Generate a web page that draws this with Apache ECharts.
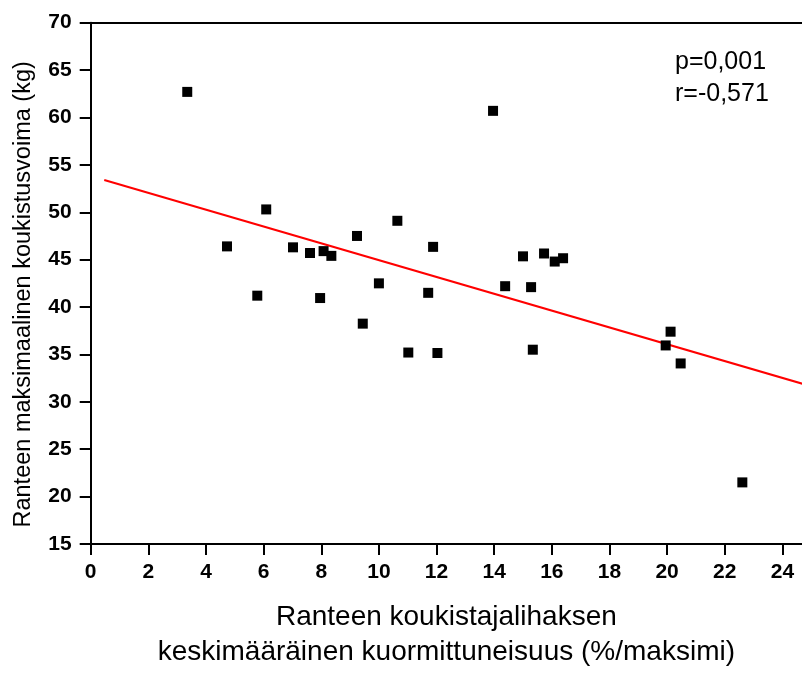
<!DOCTYPE html>
<html>
<head>
<meta charset="utf-8">
<script src="https://cdn.jsdelivr.net/npm/echarts@6/dist/echarts.min.js"></script>
<style>
  html, body { margin: 0; padding: 0; background: #fff; }
  #chart { width: 802px; height: 675px; }
</style>
</head>
<body>
<div id="chart"></div>
<script>
// mittaustulokset: kuormittuneisuus (%/maksimi) ja koukistusvoima (kg)
var loadPct = [3.35, 4.73, 5.78, 6.09, 7.02, 7.61, 7.96, 8.08, 8.35, 9.24,
               9.44, 10.0, 10.64, 11.02, 11.71, 11.88, 12.03, 13.96, 14.38, 15.0,
               15.28, 15.34, 15.73, 16.1, 16.39, 19.95, 20.12, 20.47, 22.61];
var forceKg = [62.7, 46.4, 41.2, 50.3, 46.3, 45.7, 40.95, 45.9, 45.4, 47.5,
               38.25, 42.5, 49.1, 35.2, 41.5, 46.35, 35.15, 60.7, 42.2, 45.35,
               42.1, 35.5, 45.65, 44.8, 45.15, 35.95, 37.4, 34.05, 21.5];
// regressiosuoran päätepisteet
var fitX = [0.47, 24.7];
var fitY = [53.4, 31.9];
var statsText = ["p=0,001", "r=-0,571"];

var FONT = "'Liberation Sans', Arial, sans-serif";

var points = loadPct.map(function (x, i) { return [x, forceKg[i]]; });
var fitLine = fitX.map(function (x, i) { return [x, fitY[i]]; });

var chart = echarts.init(document.getElementById('chart'));

var axisLineStyle = { color: '#000', width: 2 };

chart.setOption({
    animation: false,
    backgroundColor: '#fff',
    grid: { left: 90.7, top: 22.7, right: 0, bottom: 123.3 },
    title: {
        text: statsText.join('\n'),
        left: 670,
        top: 41,
        textStyle: { fontFamily: FONT, fontSize: 25, fontWeight: 'normal', color: '#000', lineHeight: 32 }
    },
    xAxis: [{
        type: 'value',
        min: 0,
        max: 24.68,
        interval: 2,
        axisLine: { show: true, onZero: false, lineStyle: axisLineStyle },
        axisTick: { show: true, length: 11, lineStyle: axisLineStyle },
        splitLine: { show: false },
        axisLabel: { showMaxLabel: false, margin: 18, color: '#000', fontFamily: FONT, fontSize: 21, fontWeight: 'bold' },
        name: 'Ranteen koukistajalihaksen\nkeskimääräinen kuormittuneisuus (%/maksimi)',
        nameLocation: 'middle',
        nameGap: 56,
        nameTextStyle: { fontFamily: FONT, fontSize: 28, color: '#000', lineHeight: 35 }
    }, {
        type: 'value',
        position: 'top',
        min: 0,
        max: 24.68,
        axisLine: { show: true, onZero: false, lineStyle: axisLineStyle },
        axisTick: { show: false },
        axisLabel: { show: false },
        splitLine: { show: false }
    }],
    yAxis: {
        type: 'value',
        min: 15,
        max: 70,
        interval: 5,
        axisLine: { show: true, onZero: false, lineStyle: axisLineStyle },
        axisTick: { show: true, length: 11, lineStyle: axisLineStyle },
        splitLine: { show: false },
        axisLabel: { margin: 19, color: '#000', fontFamily: FONT, fontSize: 21, fontWeight: 'bold' },
        name: 'Ranteen maksimaalinen koukistusvoima (kg)',
        nameLocation: 'middle',
        nameGap: 55,
        nameTextStyle: { fontFamily: FONT, fontSize: 23.5, color: '#000', padding: [0, 22, 0, 0] }
    },
    series: [{
        type: 'line',
        data: fitLine,
        symbol: 'none',
        lineStyle: { color: '#ff0000', width: 2 },
        z: 2
    }, {
        type: 'scatter',
        data: points,
        symbol: 'rect',
        symbolSize: 10,
        itemStyle: { color: '#000', opacity: 1 },
        z: 3
    }]
});
</script>
</body>
</html>
